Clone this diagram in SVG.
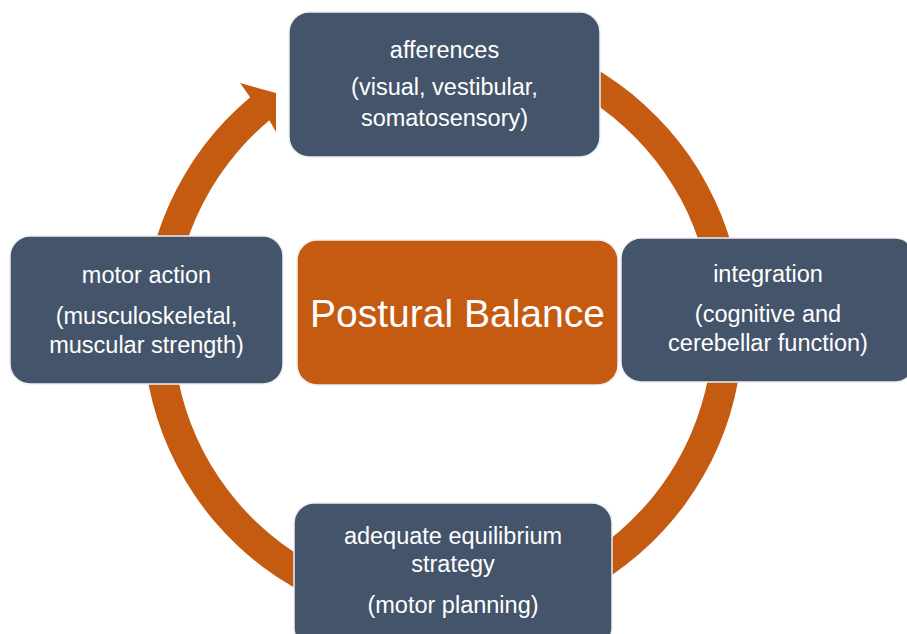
<svg xmlns="http://www.w3.org/2000/svg" width="907" height="634" viewBox="0 0 907 634">
  <style>
    .node { fill: #44546A; stroke: #eef0f2; stroke-width: 1.5; }
    .hub { fill: #C55A11; stroke: #eef0f2; stroke-width: 1.5; }
    .label { font-family: "Liberation Sans", Arial, sans-serif; font-size: 23.5px; fill: #ffffff; text-anchor: middle; }
    .title { font-family: "Liberation Sans", Arial, sans-serif; font-size: 39px; fill: #ffffff; text-anchor: middle; }
    .ring { fill: #C55A11; }
  </style>
  <rect width="907" height="634" fill="#ffffff"/>

  <!-- cycle arrow: ring centred at (443,327), radii 270..300, head at the upper left -->
  <g id="connectors">
    <path class="ring" d="M495.1,31.6 A300,300 0 1 1 250.2,97.2 L240,83 L276,93 L276,132 L269.4,120.2 A270,270 0 1 0 489.9,61.1 Z"/>
  </g>

  <g id="node-afferences">
    <rect class="node" x="289" y="12" width="311" height="145" rx="20"/>
    <text class="label" x="444.5" y="58">afferences</text>
    <text class="label" x="444.5" y="95">(visual, vestibular,</text>
    <text class="label" x="444.5" y="126">somatosensory)</text>
  </g>

  <g id="node-integration">
    <rect class="node" x="621" y="238" width="294" height="144" rx="20"/>
    <text class="label" x="768" y="282">integration</text>
    <text class="label" x="768" y="322">(cognitive and</text>
    <text class="label" x="768" y="351">cerebellar function)</text>
  </g>

  <g id="node-strategy">
    <rect class="node" x="294" y="503" width="318" height="145" rx="20"/>
    <text class="label" x="453" y="544">adequate equilibrium</text>
    <text class="label" x="453" y="572">strategy</text>
    <text class="label" x="453" y="613">(motor planning)</text>
  </g>

  <g id="node-motor-action">
    <rect class="node" x="10" y="236" width="273" height="148" rx="20"/>
    <text class="label" x="146.5" y="283">motor action</text>
    <text class="label" x="146.5" y="324">(musculoskeletal,</text>
    <text class="label" x="146.5" y="353">muscular strength)</text>
  </g>

  <g id="node-postural-balance">
    <rect class="hub" x="297" y="240" width="321" height="145" rx="20"/>
    <text class="title" x="457.5" y="327">Postural Balance</text>
  </g>
</svg>
